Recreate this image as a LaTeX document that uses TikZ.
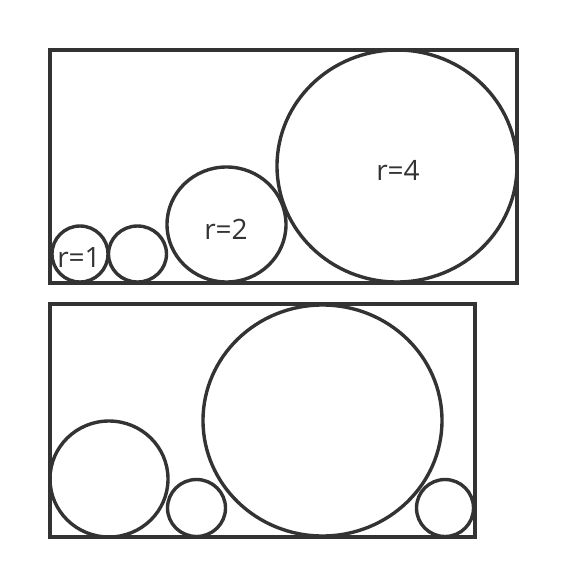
\documentclass[tikz,border=0pt]{standalone}
\usepackage{fontspec}
\setmainfont{Open Sans}
\definecolor{ink}{HTML}{333333}
\begin{document}
\begin{tikzpicture}[x=1pt,y=-1pt,
  box/.style={draw=ink,line width=4pt},
  ball/.style={draw=ink,line width=3.4pt},
  lbl/.style={text=ink,font=\fontsize{28}{32}\selectfont,inner sep=0pt}]
\useasboundingbox (0,0) rectangle (567,588);
% top panel
\draw[box] (50,50) rectangle (517,283);
\draw[ball] (80,254) ellipse [x radius=28,y radius=28];
\draw[ball] (137.5,254) ellipse [x radius=29,y radius=28];
\draw[ball] (226.5,224.5) ellipse [x radius=59.5,y radius=57.5];
\draw[ball] (397,166) ellipse [x radius=120,y radius=116];
\node[lbl] (t1) at (79,258) {r=1};
\node[lbl] (t2) at (226,229) {r=2};
\node[lbl] (t4) at (398,170) {r=4};
% bottom panel
\draw[box] (50,304) rectangle (475,537);
\draw[ball] (109,479) ellipse [x radius=59,y radius=58];
\draw[ball] (196.5,508) ellipse [x radius=29,y radius=28.5];
\draw[ball] (322.5,420.5) ellipse [x radius=119.5,y radius=115.5];
\draw[ball] (445,508) ellipse [x radius=28.5,y radius=28.5];
\end{tikzpicture}
\end{document}
